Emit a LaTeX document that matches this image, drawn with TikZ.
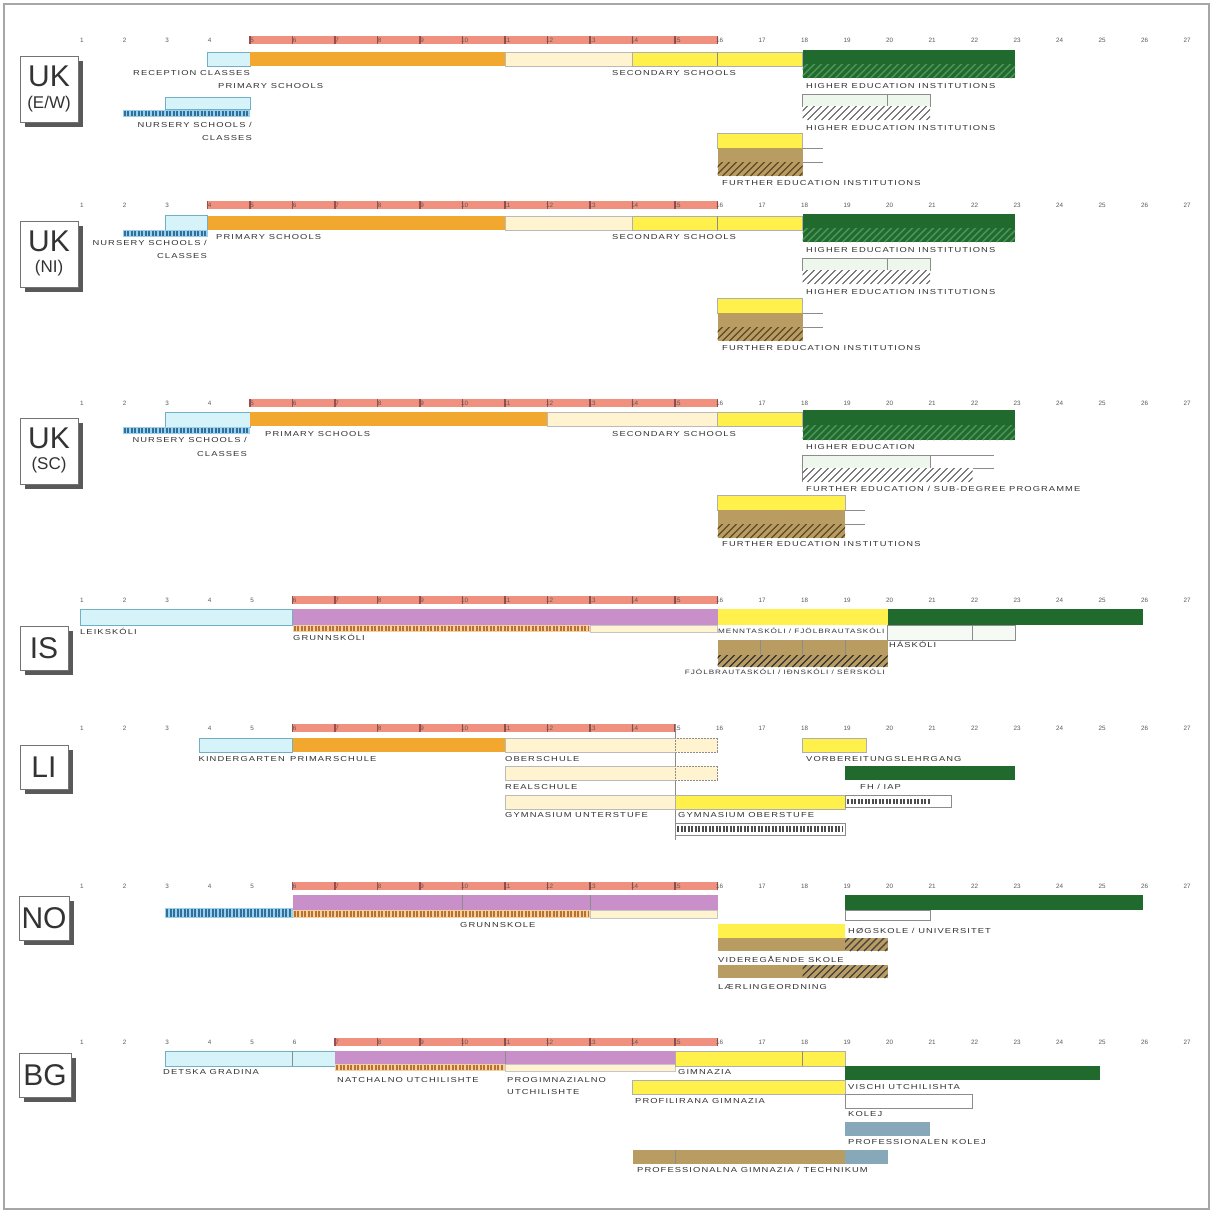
\documentclass[tikz,border=0pt]{standalone}
\usepackage{fontspec}
\setmainfont{Liberation Sans}
\newfontfamily\labfont[FakeStretch=1.3,LetterSpace=15]{Liberation Sans}
\usetikzlibrary{shadows}
\definecolor{cyanF}{HTML}{D6F3FA}
\definecolor{cyanD}{HTML}{6FB0C4}
\definecolor{orangeF}{HTML}{F2A72E}
\definecolor{paleY}{HTML}{FFF4CF}
\definecolor{yel}{HTML}{FFF04C}
\definecolor{dgreen}{HTML}{1F6A2C}
\definecolor{hgreen}{HTML}{4C9258}
\definecolor{paleG}{HTML}{EEF7EC}
\definecolor{tanF}{HTML}{B99C62}
\definecolor{tanD}{HTML}{5E4A28}
\definecolor{purp}{HTML}{C98FC9}
\definecolor{steel}{HTML}{86A8B8}
\definecolor{redbar}{HTML}{F0907E}
\definecolor{nurF}{HTML}{9CD0E8}
\definecolor{nurD}{HTML}{2F6F9F}
\definecolor{stripF}{HTML}{F5CFA0}
\definecolor{stripD}{HTML}{B8722E}
\definecolor{lineC}{HTML}{8C8C8C}
\newcommand\XA[1]{80+(#1-1)*42.5}
\newcommand\EB[5]{\path[#1] ({\XA{#2}},#4) rectangle ({\XA{#3}},#5);}
\newcommand\VL[3]{\draw[lineC,line width=0.5pt] ({\XA{#1}},#2) -- ({\XA{#1}},#3);}
\newcommand\CK[6]{%
  \fill[#5] ({\XA{#1}},#3) rectangle ({\XA{#2}},#4);
  \pgfmathsetmacro\ckw{#4-#3-2}%
  \pgfmathsetmacro\ckm{(#3+#4)/2}%
  \draw[#6, line width=\ckw pt, dash pattern=on 2pt off 1.5pt] ({\XA{#1}+1},\ckm) -- ({\XA{#2}-1},\ckm);}
\newcommand\HT[5]{%
  \begin{scope}
  \clip ({\XA{#1}},#3) rectangle ({\XA{#2}},#4);
  \pgfmathsetmacro\hx{\XA{#1}-16}%
  \foreach \k in {0,...,40} \draw[#5] ({\hx+\k*7},#4) -- ++(16,-16);
  \end{scope}}
\newcommand\NUMS[1]{\foreach \a in {1,...,27} \node[num] at ({\XA{\a}+2},#1) {\a};}
\newcommand\RED[3]{\fill[redbar] ({\XA{#1}},#3-4) rectangle ({\XA{#2}},#3+4);
  \foreach \t in {#1,...,#2} \fill[red!45!black!70] ({\XA{\t}-0.6},#3-4) rectangle ({\XA{\t}+0.6},#3+4);}
\newcommand\FEB[2]{%
  \EB{fill=yel,draw=lineC!70,line width=0.4pt}{16}{#1}{#2}{#2+15}
  \EB{fill=tanF}{16}{#1}{#2+15}{#2+29}
  \EB{fill=tanF}{16}{#1}{#2+29}{#2+43}
  \HT{16}{#1}{#2+29}{#2+43}{tanD,line width=1.2pt}
  \draw[lineC,line width=0.5pt] ({\XA{#1}},#2+15) -- ++(20,0);
  \draw[lineC,line width=0.5pt] ({\XA{#1}},#2+29) -- ++(20,0);}
\begin{document}
\begin{tikzpicture}[x=1pt,y=-1pt,
  lab/.style={font=\labfont\fontsize{7.2}{8}\selectfont, text=black!80, inner sep=0pt, anchor=west},
  labn/.style={lab, font=\labfont\fontsize{6.3}{7}\selectfont},
  num/.style={font=\fontsize{6.3}{7}\selectfont, text=black!65, inner sep=0pt},
  cbox/.style={draw=black!55, fill=white, line width=0.8pt, inner sep=0pt,
    drop shadow={shadow xshift=4.5pt, shadow yshift=-4.5pt, fill=black!65, opacity=1}},
  bigt/.style={font=\fontsize{30}{30}\selectfont, text=black!80, inner sep=0pt},
  subt/.style={font=\fontsize{17}{17}\selectfont, text=black!80, inner sep=0pt},
]
\useasboundingbox (0,0) rectangle (1214,1211);
\fill[white] (0,0) rectangle (1214,1211);
\draw[black!35, line width=1.5pt] (4,4) rectangle (1209,1209);

% ================= UK (E/W)
\RED{5}{16}{40}
\NUMS{40}
\node[cbox, minimum width=58pt, minimum height=66pt] (ew) at (49,89) {};
\node[bigt] (ew-t1) at (49,76) {UK};
\node[subt] (ew-t2) at (49,104) {(E/W)};
\EB{fill=cyanF,draw=cyanD,line width=0.6pt}{4}{5}{52}{66}
\EB{fill=orangeF}{5}{11}{52}{66}
\EB{fill=paleY,draw=lineC!60,line width=0.4pt}{11}{14}{52}{66}
\EB{fill=yel,draw=lineC!70,line width=0.4pt}{14}{18}{52}{66}
\VL{16}{52}{66}
\EB{fill=dgreen}{18}{23}{50}{78}
\HT{18}{23}{64}{78}{hgreen,line width=1.5pt}
\node[lab,anchor=east] (ew-rec) at (250,73) {RECEPTION CLASSES};
\node[lab] (ew-pri) at (218,86) {PRIMARY SCHOOLS};
\node[lab] (ew-sec) at (612,73) {SECONDARY SCHOOLS};
\node[lab] (ew-he) at (806,86) {HIGHER EDUCATION INSTITUTIONS};
\EB{fill=cyanF,draw=cyanD,line width=0.6pt}{3}{5}{97}{109}
\CK{2}{5}{110}{117}{nurF}{nurD}
\node[lab,anchor=east] (ew-nur1) at (252,125) {NURSERY SCHOOLS /};
\node[lab,anchor=east] (ew-nur2) at (252,138) {CLASSES};
\EB{fill=paleG,draw=lineC,line width=0.5pt}{18}{21}{94}{106}
\VL{20}{94}{106}
\EB{fill=white}{18}{21}{106}{120}
\HT{18}{21}{106}{120}{black!70,line width=1pt}
\node[lab] (ew-he2) at (806,128) {HIGHER EDUCATION INSTITUTIONS};
\FEB{18}{133}
\node[lab] (ew-fe) at (722,183) {FURTHER EDUCATION INSTITUTIONS};

% ================= UK (NI)
\RED{4}{16}{205}
\NUMS{205}
\node[cbox, minimum width=58pt, minimum height=66pt] (ni) at (49,254) {};
\node[bigt] (ni-t1) at (49,241) {UK};
\node[subt] (ni-t2) at (49,268) {(NI)};
\EB{fill=cyanF,draw=cyanD,line width=0.6pt}{3}{4}{215}{230}
\CK{2}{4}{230}{237}{nurF}{nurD}
\EB{fill=orangeF}{4}{11}{216}{230}
\EB{fill=paleY,draw=lineC!60,line width=0.4pt}{11}{14}{216}{230}
\EB{fill=yel,draw=lineC!70,line width=0.4pt}{14}{18}{216}{230}
\VL{16}{216}{230}
\EB{fill=dgreen}{18}{23}{214}{242}
\HT{18}{23}{228}{242}{hgreen,line width=1.5pt}
\node[lab,anchor=east] (ni-nur1) at (207,243) {NURSERY SCHOOLS /};
\node[lab,anchor=east] (ni-nur2) at (207,256) {CLASSES};
\node[lab] (ni-pri) at (216,237) {PRIMARY SCHOOLS};
\node[lab] (ni-sec) at (612,237) {SECONDARY SCHOOLS};
\node[lab] (ni-he) at (806,250) {HIGHER EDUCATION INSTITUTIONS};
\EB{fill=paleG,draw=lineC,line width=0.5pt}{18}{21}{258}{270}
\VL{20}{258}{270}
\EB{fill=white}{18}{21}{270}{284}
\HT{18}{21}{270}{284}{black!70,line width=1pt}
\node[lab] (ni-he2) at (806,292) {HIGHER EDUCATION INSTITUTIONS};
\FEB{18}{298}
\node[lab] (ni-fe) at (722,348) {FURTHER EDUCATION INSTITUTIONS};

% ================= UK (SC)
\RED{5}{16}{403}
\NUMS{403}
\node[cbox, minimum width=58pt, minimum height=66pt] (sc) at (49,451) {};
\node[bigt] (sc-t1) at (49,438) {UK};
\node[subt] (sc-t2) at (49,465) {(SC)};
\EB{fill=cyanF,draw=cyanD,line width=0.6pt}{3}{5}{412}{427}
\CK{2}{5}{427}{434}{nurF}{nurD}
\node[lab,anchor=east] (sc-nur1) at (247,440) {NURSERY SCHOOLS /};
\node[lab,anchor=east] (sc-nur2) at (247,454) {CLASSES};
\EB{fill=orangeF}{5}{12}{412}{426}
\EB{fill=paleY,draw=lineC!60,line width=0.4pt}{12}{16}{412}{426}
\EB{fill=yel,draw=lineC!70,line width=0.4pt}{16}{18}{412}{426}
\EB{fill=dgreen}{18}{23}{410}{440}
\HT{18}{23}{425}{440}{hgreen,line width=1.5pt}
\node[lab] (sc-pri) at (265,434) {PRIMARY SCHOOLS};
\node[lab] (sc-sec) at (612,434) {SECONDARY SCHOOLS};
\node[lab] (sc-he) at (806,447) {HIGHER EDUCATION};
\EB{fill=paleG}{18}{21}{455}{468}
\draw[lineC,line width=0.5pt] ({\XA{18}},455) -- ({\XA{22.5}},455);
\draw[lineC,line width=0.5pt] ({\XA{18}},468) -- ({\XA{22.5}},468);
\VL{21}{455}{468}
\VL{18}{455}{482}
\EB{fill=white}{18}{22}{468}{482}
\HT{18}{22}{468}{482}{black!70,line width=1pt}
\node[lab] (sc-sub) at (806,489) {FURTHER EDUCATION / SUB-DEGREE PROGRAMME};
\FEB{19}{495}
\node[lab] (sc-fe) at (722,544) {FURTHER EDUCATION INSTITUTIONS};

% ================= IS
\RED{6}{16}{600}
\NUMS{600}
\node[cbox, minimum width=48pt, minimum height=44pt] (is) at (44,648) {};
\node[bigt] (is-t) at (44,648) {IS};
\EB{fill=cyanF,draw=cyanD,line width=0.6pt}{1}{6}{609}{625}
\EB{fill=purp}{6}{16}{609}{625}
\CK{6}{13}{625}{632}{stripF}{stripD}
\EB{fill=paleY,draw=lineC!50,line width=0.4pt}{13}{16}{625}{632}
\EB{fill=yel}{16}{20}{609}{625}
\EB{fill=dgreen}{20}{26}{609}{625}
\EB{fill=paleG!60,draw=lineC,line width=0.5pt}{20}{23}{625}{640}
\VL{22}{625}{640}
\EB{fill=tanF}{16}{20}{640}{655}
\VL{17}{640}{655}\VL{18}{640}{655}\VL{19}{640}{655}
\EB{fill=tanF}{16}{20}{655}{667}
\HT{16}{20}{655}{667}{black!80,line width=1.2pt}
\node[lab] (is-leik) at (80,631) {LEIKSKÓLI};
\node[lab] (is-grunn) at (293,637) {GRUNNSKÓLI};
\node[labn] (is-menn) at (718,631) {MENNTASKÓLI / FJÖLBRAUTASKÓLI};
\node[lab] (is-hask) at (889,644) {HÁSKÓLI};
\node[labn,anchor=east] (is-fjol) at (885,672) {FJÖLBRAUTASKÓLI / IÐNSKÓLI / SÉRSKÓLI};

% ================= LI
\RED{6}{15}{728}
\NUMS{728}
\node[cbox, minimum width=48pt, minimum height=44pt] (li) at (44,767) {};
\node[bigt] (li-t) at (44,767) {LI};
\VL{15}{724}{840}
\EB{fill=cyanF,draw=cyanD,line width=0.6pt}{3.8}{6}{738}{752}
\EB{fill=orangeF}{6}{11}{738}{752}
\EB{fill=paleY,draw=lineC!60,line width=0.4pt}{11}{15}{738}{752}
\EB{fill=paleY,draw=lineC,densely dotted,line width=0.5pt}{15}{16}{738}{752}
\EB{fill=paleY,draw=lineC!60,line width=0.4pt}{11}{15}{766}{780}
\EB{fill=paleY,draw=lineC,densely dotted,line width=0.5pt}{15}{16}{766}{780}
\EB{fill=paleY,draw=lineC!60,line width=0.4pt}{11}{15}{795}{809}
\EB{fill=yel,draw=lineC!70,line width=0.4pt}{15}{19}{795}{809}
\EB{fill=white,draw=lineC,line width=0.4pt}{15}{19}{823}{835}
\draw[black!70, line width=6pt, dash pattern=on 2pt off 1.5pt] ({\XA{15}+2},829) -- ({\XA{19}-2},829);
\EB{fill=yel,draw=lineC!70,line width=0.4pt}{18}{19.5}{738}{752}
\EB{fill=dgreen}{19}{23}{766}{780}
\EB{fill=white,draw=lineC,line width=0.4pt}{19}{21.5}{795}{807}
\draw[black!70, line width=5pt, dash pattern=on 2pt off 1.5pt] ({\XA{19}+2},801) -- ({\XA{21}},801);
\node[lab,anchor=east] (li-kg) at (285,759) {KINDERGARTEN};
\node[lab] (li-prim) at (290,759) {PRIMARSCHULE};
\node[lab] (li-ober) at (505,759) {OBERSCHULE};
\node[lab] (li-real) at (505,787) {REALSCHULE};
\node[lab] (li-gu) at (505,815) {GYMNASIUM UNTERSTUFE};
\node[lab] (li-go) at (678,815) {GYMNASIUM OBERSTUFE};
\node[lab] (li-vor) at (806,759) {VORBEREITUNGSLEHRGANG};
\node[lab] (li-fh) at (860,787) {FH / IAP};

% ================= NO
\RED{6}{16}{886}
\NUMS{886}
\node[cbox, minimum width=50pt, minimum height=44pt] (no) at (44,918) {};
\node[bigt] (no-t) at (44,918) {NO};
\CK{3}{6}{908}{918}{nurF}{nurD}
\EB{fill=purp}{6}{16}{895}{910}
\VL{10}{895}{910}\VL{13}{895}{910}
\CK{6}{13}{910}{918}{stripF}{stripD}
\EB{fill=paleY,draw=lineC!50,line width=0.4pt}{13}{16}{910}{918}
\EB{fill=dgreen}{19}{26}{895}{910}
\EB{draw=lineC,line width=0.5pt}{19}{21}{910}{920}
\EB{fill=yel}{16}{19}{924}{938}
\EB{fill=tanF}{16}{20}{938}{951}
\HT{19}{20}{938}{951}{black!75,line width=1.2pt}
\EB{fill=tanF}{16}{20}{965}{978}
\HT{18}{20}{965}{978}{black!75,line width=1.2pt}
\node[lab] (no-grunn) at (460,925) {GRUNNSKOLE};
\node[lab] (no-hog) at (848,931) {HØGSKOLE / UNIVERSITET};
\node[lab] (no-vid) at (718,959) {VIDEREGÅENDE SKOLE};
\node[lab] (no-lar) at (718,987) {LÆRLINGEORDNING};

% ================= BG
\RED{7}{16}{1042}
\NUMS{1042}
\node[cbox, minimum width=52pt, minimum height=44pt] (bg) at (45,1075) {};
\node[bigt] (bg-t) at (45,1075) {BG};
\EB{fill=cyanF,draw=cyanD,line width=0.6pt}{3}{7}{1051}{1066}
\VL{6}{1051}{1066}
\EB{fill=purp}{7}{15}{1051}{1064}
\VL{11}{1051}{1064}
\CK{7}{11}{1064}{1071}{stripF}{stripD}
\EB{fill=paleY,draw=lineC!50,line width=0.4pt}{11}{15}{1064}{1071}
\EB{fill=yel,draw=lineC!70,line width=0.4pt}{15}{19}{1051}{1066}
\VL{18}{1051}{1066}
\EB{fill=dgreen}{19}{25}{1066}{1080}
\EB{fill=yel,draw=lineC!70,line width=0.4pt}{14}{19}{1080}{1094}
\EB{fill=white,draw=lineC,line width=0.5pt}{19}{22}{1094}{1108}
\EB{fill=steel}{19}{21}{1122}{1136}
\EB{fill=tanF}{14}{19}{1150}{1164}
\VL{15}{1150}{1164}
\EB{fill=steel}{19}{20}{1150}{1164}
\node[lab] (bg-det) at (163,1072) {DETSKA GRADINA};
\node[lab] (bg-nat) at (337,1080) {NATCHALNO UTCHILISHTE};
\node[lab] (bg-pro1) at (507,1080) {PROGIMNAZIALNO};
\node[lab] (bg-pro2) at (507,1092) {UTCHILISHTE};
\node[lab] (bg-gim) at (678,1072) {GIMNAZIA};
\node[lab] (bg-vis) at (848,1087) {VISCHI UTCHILISHTA};
\node[lab] (bg-prof) at (635,1101) {PROFILIRANA GIMNAZIA};
\node[lab] (bg-kol) at (848,1114) {KOLEJ};
\node[lab] (bg-pk) at (848,1142) {PROFESSIONALEN KOLEJ};
\node[lab] (bg-pg) at (637,1170) {PROFESSIONALNA GIMNAZIA / TECHNIKUM};
\end{tikzpicture}
\end{document}
